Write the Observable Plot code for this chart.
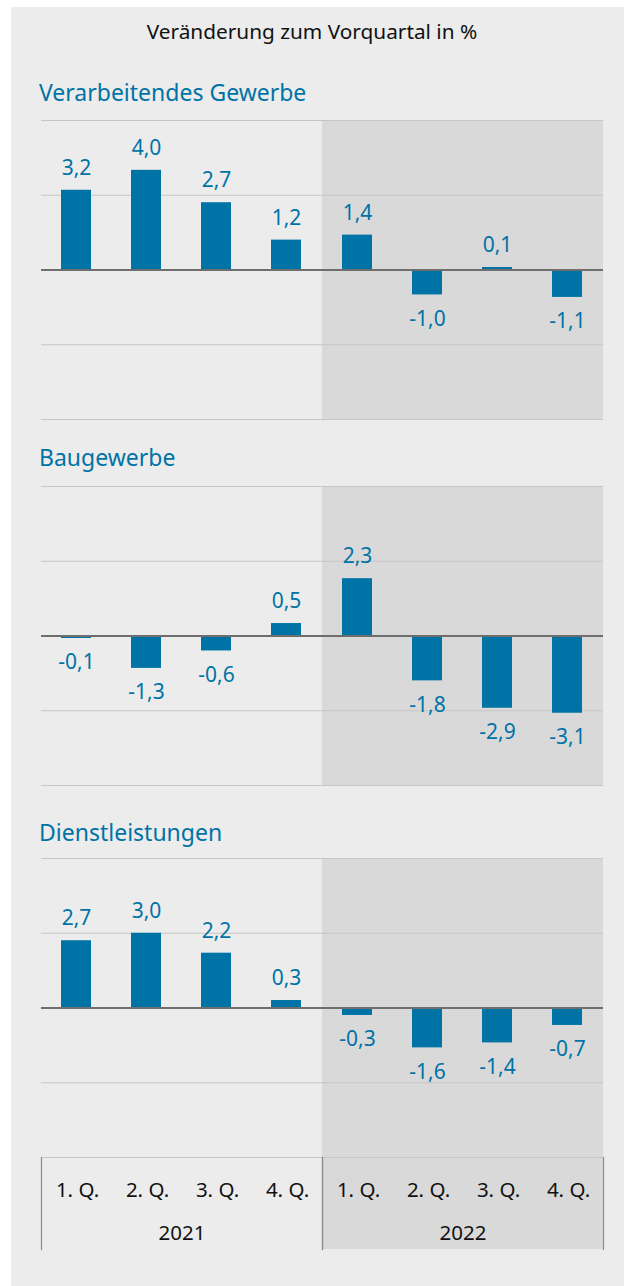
<!DOCTYPE html>
<html>
<head>
<meta charset="utf-8">
<script src="https://cdn.jsdelivr.net/npm/d3@7"></script>
<script src="https://cdn.jsdelivr.net/npm/@observablehq/plot@0.6"></script>
<style>
  html, body { margin: 0; padding: 0; background: #ffffff; }
  #page { position: relative; width: 624px; height: 1286px; font-family: "Noto Sans", sans-serif; overflow: hidden; }
  #box { position: absolute; left: 11px; top: 7px; right: 0; bottom: 0; background: #ececec; }
  .abs { position: absolute; }
  .title { left: 0; width: 624px; text-align: center; font-size: 20.8px; line-height: 20.8px; color: #111; }
  .heading { left: 39px; font-size: 23px; line-height: 23px; color: #0073a6; }
  svg { overflow: visible; }
</style>
</head>
<body>
<div id="page"><div id="box"></div></div>
<script>
// ---- data ----
const chartTitle = "Veränderung zum Vorquartal in %";
const years = ["2021", "2022"];
const shadedYears = ["2022"];
const quarters = ["1. Q.", "2. Q.", "3. Q.", "4. Q."];
const panelTitles = ["Verarbeitendes Gewerbe", "Baugewerbe", "Dienstleistungen"];
const verarbeitendesGewerbe = [3.2, 4.0, 2.7, 1.2, 1.4, -1.0, 0.1, -1.1];
const baugewerbe = [-0.1, -1.3, -0.6, 0.5, 2.3, -1.8, -2.9, -3.1];
const dienstleistungen = [2.7, 3.0, 2.2, 0.3, -0.3, -1.6, -1.4, -0.7];
const yDomain = [-6, 6];
const yTicks = [-6, -3, 0, 3, 6];

// ---- style ----
const BLUE = "#0073a6";
const SHADE = "#d9d9d9";
const GRID = "#c6c6c6";
const ZERO = "#6e6e6e";
const FONT = "Noto Sans";

const page = document.getElementById("page");
function place(el, top, left) {
  el.style.position = "absolute";
  el.style.top = top + "px";
  el.style.left = (left || 0) + "px";
  page.appendChild(el);
  return el;
}
function textDiv(cls, txt, top) {
  const d = document.createElement("div");
  d.className = "abs " + cls;
  d.textContent = txt;
  d.style.top = top + "px";
  page.appendChild(d);
  return d;
}

const fmt = v => v.toFixed(1).replace(".", ",");
const rowsOf = values => values.map((v, i) => ({year: years[Math.floor(i / 4)], quarter: quarters[i % 4], value: v}));

const common = {
  width: 624,
  marginLeft: 40,
  marginRight: 21,
  fx: {domain: years, padding: 0, axis: null},
  x: {domain: quarters, paddingInner: 0.57, paddingOuter: 0.285, axis: null},
  style: {background: "transparent", fontFamily: FONT, overflow: "visible"}
};

function panel(values) {
  const rows = rowsOf(values);
  return Plot.plot({
    ...common,
    height: 301,
    marginTop: 1,
    marginBottom: 1,
    y: {domain: yDomain, axis: null},
    marks: [
      Plot.rect(shadedYears, {fx: d => d, fill: SHADE}),
      Plot.gridY(yTicks, {stroke: GRID, strokeOpacity: 1, strokeWidth: 1.2}),
      Plot.barY(rows, {fx: "year", x: "quarter", y: "value", fill: BLUE}),
      Plot.ruleY([0], {stroke: ZERO, strokeWidth: 2}),
      Plot.text(rows.filter(d => d.value >= 0), {fx: "year", x: "quarter", y: "value", text: d => fmt(d.value), dy: -22, lineAnchor: "middle", fill: BLUE, fontSize: 21}),
      Plot.text(rows.filter(d => d.value < 0), {fx: "year", x: "quarter", y: "value", text: d => fmt(d.value), dy: 24, lineAnchor: "middle", fill: BLUE, fontSize: 21})
    ]
  });
}

function axisPanel() {
  const cells = d3.cross(years, quarters).map(([year, quarter]) => ({year, quarter}));
  return Plot.plot({
    ...common,
    height: 92,
    marginTop: 0,
    marginBottom: 0,
    marks: [
      Plot.rect(shadedYears, {fx: d => d, fill: SHADE}),
      Plot.frame({anchor: "top", stroke: GRID, strokeWidth: 1.2}),
      Plot.frame({anchor: "left", stroke: "#8a8a8a", strokeWidth: 1.2}),
      Plot.frame({anchor: "right", stroke: "#8a8a8a", strokeWidth: 1.2}),
      Plot.text(cells, {fx: "year", x: "quarter", text: "quarter", frameAnchor: "top", lineAnchor: "middle", dy: 33, fill: "#111", fontSize: 20.5}),
      Plot.text(years, {fx: d => d, text: d => d, frameAnchor: "top", lineAnchor: "middle", dy: 76, fill: "#111", fontSize: 20.5})
    ]
  });
}

textDiv("title", chartTitle, 21);
const headTops = [81, 446, 821];
const panelTops = [119, 485, 857];
const series = [verarbeitendesGewerbe, baugewerbe, dienstleistungen];
series.forEach((vals, i) => {
  textDiv("heading", panelTitles[i], headTops[i]);
  place(panel(vals), panelTops[i], 0);
});
place(axisPanel(), 1157, 0);
</script>
</body>
</html>
